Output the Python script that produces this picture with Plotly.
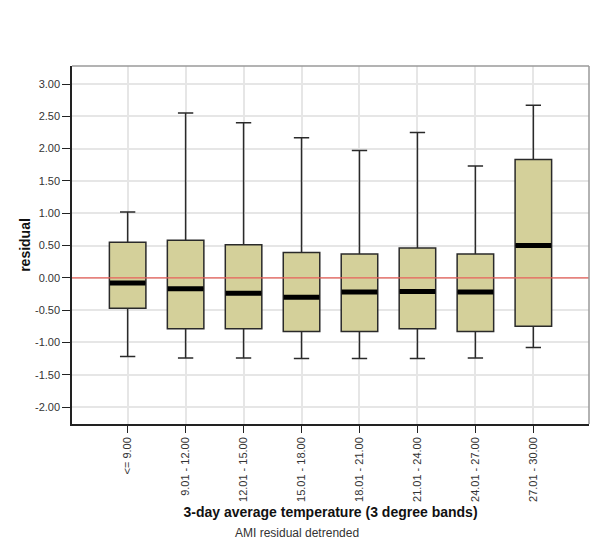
import plotly.graph_objects as go

# ---- data ----
categories = ["<= 9.00", "9.01 - 12.00", "12.01 - 15.00", "15.01 - 18.00",
              "18.01 - 21.00", "21.01 - 24.00", "24.01 - 27.00", "27.01 - 30.00"]
lower_whisker = [-1.22, -1.24, -1.24, -1.25, -1.25, -1.25, -1.24, -1.08]
q1_values = [-0.47, -0.79, -0.79, -0.83, -0.83, -0.79, -0.83, -0.75]
median_values = [-0.08, -0.17, -0.24, -0.30, -0.22, -0.21, -0.22, 0.50]
q3_values = [0.55, 0.58, 0.51, 0.39, 0.37, 0.46, 0.37, 1.83]
upper_whisker = [1.02, 2.55, 2.40, 2.17, 1.97, 2.25, 1.73, 2.67]
y_tick_values = [-2.0, -1.5, -1.0, -0.5, 0.0, 0.5, 1.0, 1.5, 2.0, 2.5, 3.0]
y_tick_labels = ["-2.00", "-1.50", "-1.00", "-0.50", "0.00", "0.50",
                 "1.00", "1.50", "2.00", "2.50", "3.00"]
reference_value = 0.0

FONT = "Liberation Sans, Arial, sans-serif"
BOX_FILL = "#d4d09a"

fig = go.Figure()

fig.add_trace(go.Box(
    x=categories,
    q1=q1_values,
    median=median_values,
    q3=q3_values,
    lowerfence=lower_whisker,
    upperfence=upper_whisker,
    fillcolor=BOX_FILL,
    line=dict(color="#2a2a2a", width=1.5),
    width=0.63,
    whiskerwidth=0.42,
    boxpoints=False,
    showlegend=False,
    hoverinfo="skip",
))

# thick median bars
fig.add_trace(go.Scatter(
    x=categories,
    y=median_values,
    mode="markers",
    marker=dict(symbol="line-ew", size=25.5, color="black",
                line=dict(color="black", width=5)),
    showlegend=False,
    hoverinfo="skip",
))

# red reference line at zero
fig.add_hline(y=reference_value, line=dict(color="#e8605a", width=1.2), layer="above")

# grey top / right frame
fig.add_shape(type="line", xref="paper", yref="paper", x0=0, x1=1, y0=1, y1=1,
              line=dict(color="#9a9a9a", width=1.5))
fig.add_shape(type="line", xref="paper", yref="paper", x0=1, x1=1, y0=0, y1=1,
              line=dict(color="#9a9a9a", width=1.5))

fig.update_layout(
    width=592, height=546,
    margin=dict(l=64, r=11, t=58, b=130),
    paper_bgcolor="white",
    plot_bgcolor="white",
    font=dict(family=FONT, size=11, color="#333333"),
    xaxis=dict(
        type="category",
        range=[-0.96, 7.96],
        tickangle=-90,
        ticks="outside", ticklen=7, tickcolor="#222222",
        showgrid=True, gridcolor="#e6e6e6", gridwidth=1.5,
        showline=True, linecolor="#222222", linewidth=1.5,
        tickfont=dict(family=FONT, size=11, color="#333333"),
        title=dict(text="3-day average temperature (3 degree bands)",
                   font=dict(family=FONT, size=14, color="#111111", weight="bold"),
                   standoff=6),
        automargin=False,
        zeroline=False,
    ),
    yaxis=dict(
        range=[-2.263, 3.279],
        tickvals=y_tick_values,
        ticktext=y_tick_labels,
        ticks="outside", ticklen=8, tickcolor="#222222",
        showgrid=True, gridcolor="#e6e6e6", gridwidth=1.5,
        showline=True, linecolor="#222222", linewidth=1.5,
        zeroline=False,
        tickfont=dict(family=FONT, size=11, color="#333333"),
        title=dict(text="residual",
                   font=dict(family=FONT, size=14, color="#111111", weight="bold"),
                   standoff=1),
        automargin=False,
    ),
    annotations=[dict(
        text="AMI residual detrended", xref="paper", yref="paper",
        x=(297 - 72) / 517, y=-(533 - 424) / 358, xanchor="center", yanchor="middle",
        showarrow=False, font=dict(family=FONT, size=12, color="#333333"),
    )],
)

fig.write_html("out.html")
